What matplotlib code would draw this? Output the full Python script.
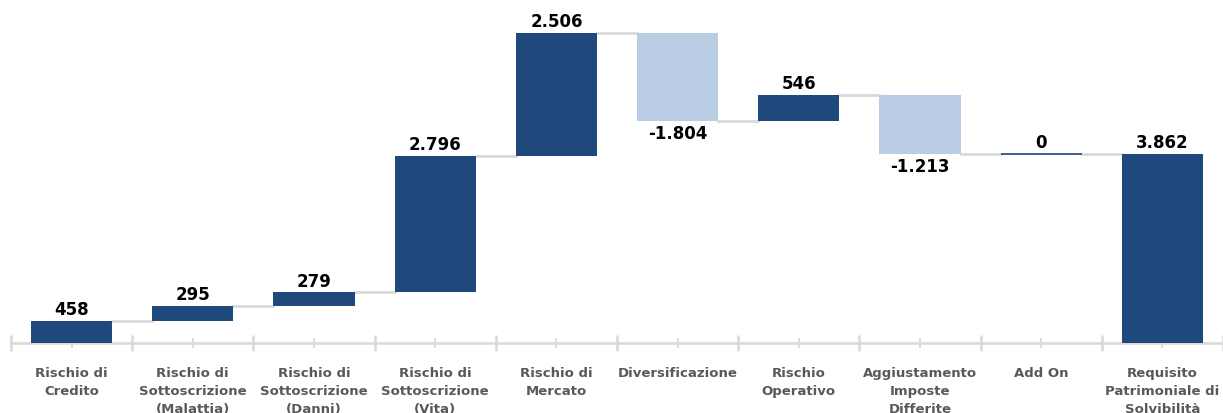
import matplotlib
matplotlib.use("Agg")
import matplotlib.pyplot as plt
import numpy as np

categories = ["Rischio di\nCredito", "Rischio di\nSottoscrizione\n(Malattia)",
              "Rischio di\nSottoscrizione\n(Danni)", "Rischio di\nSottoscrizione\n(Vita)",
              "Rischio di\nMercato", "Diversificazione", "Rischio\nOperativo",
              "Aggiustamento\nImposte\nDifferite", "Add On",
              "Requisito\nPatrimoniale di\nSolvibilità"]
deltas = [458, 295, 279, 2796, 2506, -1804, 546, -1213, 0]
total = 3862
labels = ["458", "295", "279", "2.796", "2.506", "-1.804", "546", "-1.213", "0", "3.862"]

dark = "#1f497d"
light = "#b9cde5"
grey = "#d9d9d9"

fig = plt.figure(figsize=(12.23, 4.14), dpi=100)
ax = fig.add_axes([11/1223, 70/414, 1 - 11/1223, 344/414])

x = np.arange(len(categories))
w = 0.67
cum = 0
levels = []
for i, d in enumerate(deltas):
    bottom = cum if d >= 0 else cum + d
    col = dark if d >= 0 else light
    if d == 0:
        ax.hlines(cum, i - w/2, i + w/2, color=dark, lw=1.2, zorder=3)
    else:
        ax.bar(i, abs(d), bottom=bottom, width=w, color=col, zorder=3)
    cum += d
    levels.append(cum)
    if d >= 0:
        ax.text(i, cum + 60, labels[i], ha="center", va="bottom", fontsize=12,
                fontweight="bold", color="black")
    else:
        ax.text(i, cum - 60, labels[i], ha="center", va="top", fontsize=12,
                fontweight="bold", color="black")
i = len(deltas)
ax.bar(i, total, width=w, color=dark, zorder=3)
ax.text(i, total + 60, labels[i], ha="center", va="bottom", fontsize=12,
        fontweight="bold", color="black")

# connectors
for j, lv in enumerate(levels):
    ax.plot([j + w/2, j + 1 - w/2], [lv, lv], color=grey, lw=2, zorder=2)

ax.set_xlim(-0.5, len(categories) - 0.5)
ax.set_ylim(0, 344/0.04894)
for s in ["top", "right", "left"]:
    ax.spines[s].set_visible(False)
ax.spines["bottom"].set_color(grey)
ax.spines["bottom"].set_linewidth(1.8)
ax.set_yticks([])
ax.set_xticks(np.arange(len(categories) + 1) - 0.5)
ax.set_xticklabels([])
ax.set_xticks(x, categories, minor=True)
ax.tick_params(axis="x", which="major", direction="inout", length=11, width=1.8, color=grey)
ax.tick_params(axis="x", which="minor", direction="inout", length=7, width=1.3, color=grey,
               pad=13, labelsize=9.5, labelcolor="#595959")
for t in ax.get_xticklabels(minor=True):
    t.set_fontweight("bold")
    t.set_linespacing(1.5)

fig.savefig("out.png", dpi=100)
